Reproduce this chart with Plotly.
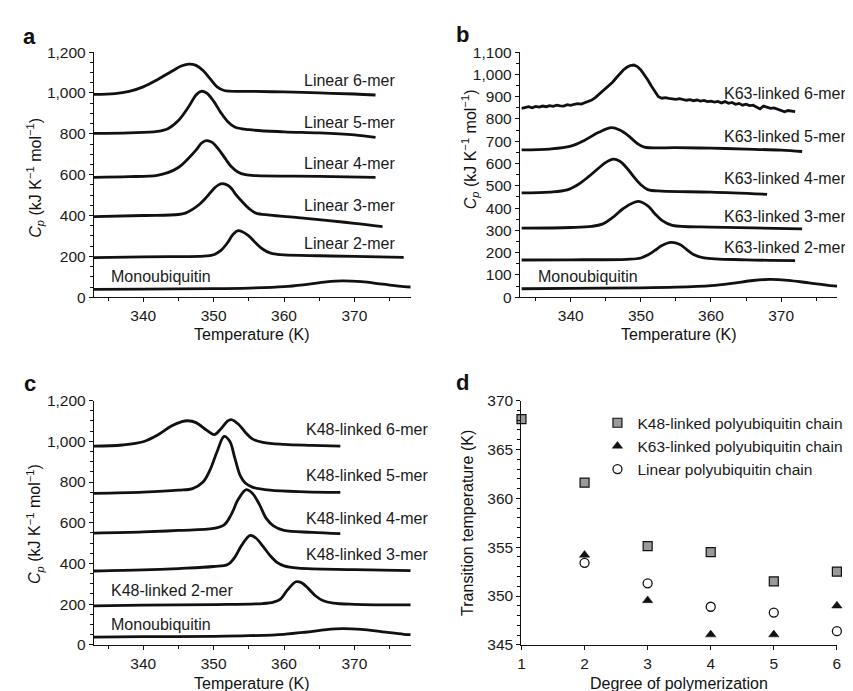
import plotly.graph_objects as go

W, H = 853, 691
FONT = "Liberation Sans, Arial, Helvetica, sans-serif"

# ---------------- data: panel a (linear chains) ----------------
MONO_T = [333, 340, 350, 355, 360, 363, 366, 368.3, 371, 374, 377, 378]
MONO_CP = [38, 40, 42, 45, 52, 62, 75, 80, 76, 64, 52, 50]

LIN2_T = [333, 340, 348, 349, 350, 351, 352, 352.7, 353.4, 354, 355, 356, 357, 358, 359, 360, 365, 370, 377]
LIN2_CP = [194, 198, 200, 202, 208, 228, 268, 305, 325, 322, 300, 265, 235, 217, 210, 207, 203, 200, 195]

LIN3_T = [333, 340, 345, 346, 347, 348, 349, 350, 350.7, 351.3, 352, 352.6, 353, 354, 355, 356, 358, 362, 366, 370, 374]
LIN3_CP = [395, 400, 405, 412, 430, 455, 490, 530, 550, 556, 548, 530, 510, 470, 435, 412, 402, 390, 376, 362, 346]

LIN4_T = [333, 338, 342, 343.5, 345, 346.2, 347.5, 348.3, 349, 349.8, 350.8, 351.8, 352.5, 353.5, 354.5, 356, 365, 373]
LIN4_CP = [587, 590, 597, 610, 635, 672, 720, 755, 767, 758, 720, 672, 640, 612, 600, 595, 592, 587]

LIN5_T = [333, 338, 342, 343.5, 345, 346.5, 347.5, 348.2, 349, 350, 351, 352, 353, 355, 360, 365, 370, 373]
LIN5_CP = [802, 805, 812, 825, 865, 935, 990, 1008, 1000, 960, 905, 860, 833, 820, 810, 805, 795, 783]

LIN6_T = [333, 336, 338, 340, 342, 344, 345.5, 346.5, 347.5, 348.5, 349.5, 350.5, 351.5, 355, 360, 365, 370, 373]
LIN6_CP = [993, 997, 1008, 1030, 1065, 1105, 1133, 1141, 1135, 1110, 1070, 1030, 1012, 1008, 1005, 1000, 995, 990]

# ---------------- data: panel b (K63-linked chains) ----------------
K63_2_T = [333, 340, 348, 350, 351, 352, 353, 354.3, 355.5, 356.5, 357.5, 359, 365, 372]
K63_2_CP = [167, 168, 170, 176, 190, 210, 232, 246, 238, 215, 192, 177, 168, 164]

K63_3_T = [333, 340, 343, 344.5, 346, 347.5, 349.6, 351, 352, 353, 354.5, 360, 366, 373]
K63_3_CP = [310, 313, 318, 328, 358, 398, 430, 410, 375, 345, 322, 315, 311, 307]

K63_4_T = [333, 337, 339.5, 341, 342.5, 344, 345, 346.1, 347, 348, 349, 350, 351, 353, 360, 368]
K63_4_CP = [468, 472, 482, 505, 540, 580, 605, 620, 610, 580, 540, 505, 483, 476, 472, 462]

K63_5_T = [333, 337, 340, 342, 344, 345.8, 347, 348.4, 349.5, 350.5, 355, 360, 365, 370, 373]
K63_5_CP = [661, 665, 678, 705, 740, 761, 750, 720, 690, 674, 671, 669, 665, 660, 654]

K63_6_T = [333, 333.5, 334, 334.5, 335, 335.5, 336, 336.5, 337, 337.5, 338, 338.5, 339, 339.5,
           340, 340.5, 341, 341.5, 342, 342.5, 343, 343.5, 344, 344.5, 345, 345.5, 346, 346.5,
           347, 347.5, 348, 348.5, 349, 349.5, 350, 350.5, 351, 351.5, 352, 352.5, 353, 353.5,
           354, 354.5, 355, 355.5, 356, 356.5, 357, 357.5, 358, 358.5, 359, 359.5, 360, 360.5,
           361, 361.5, 362, 362.5, 363, 363.5, 364, 364.5, 365, 365.5, 366, 366.5, 367, 367.5,
           368, 368.5, 369, 369.5, 370, 370.5, 371, 371.5, 372]
K63_6_CP = [848, 852, 855, 850, 856, 853, 858, 855, 860, 857, 862, 859, 858, 864,
            861, 866, 869, 867, 872, 878, 885, 896, 910, 925, 940, 955, 966, 985,
            1005, 1020, 1032, 1040, 1042, 1035, 1020, 1000, 975, 948, 922, 900, 893, 896,
            892, 890, 888, 891, 886, 884, 887, 882, 885, 880, 883, 878, 880, 876,
            879, 872, 878, 870, 874, 866, 870, 862, 866, 860, 862, 852, 845, 858,
            852, 848, 850, 843, 838, 832, 838, 834, 833]

# ---------------- data: panel c (K48-linked chains) ----------------
K48_2_T = [333, 340, 350, 357, 358.5, 359.5, 360.5, 361.7, 362.5, 363.5, 364.5, 365.5, 367, 370, 378]
K48_2_CP = [192, 195, 198, 203, 210, 225, 270, 310, 305, 275, 240, 218, 205, 199, 196]

K48_3_T = [333, 340, 345, 350, 352, 353, 354, 355.2, 356, 357, 358, 359, 360, 362, 370, 378]
K48_3_CP = [363, 368, 375, 385, 395, 430, 490, 538, 525, 485, 440, 405, 388, 377, 370, 365]

K48_4_T = [333, 340, 345, 350, 351.5, 352.5, 353.5, 354.6, 355.5, 356.5, 357.5, 358.5, 360, 364, 368]
K48_4_CP = [549, 555, 562, 572, 590, 640, 715, 762, 745, 690, 620, 585, 562, 553, 547]

K48_5_T = [333, 340, 345, 347, 348.5, 349.5, 350.5, 351.5, 352.3, 353, 353.8, 354.5, 355.5, 358, 363, 368]
K48_5_CP = [744, 750, 760, 768, 800, 860, 950, 1024, 1000, 920, 830, 795, 775, 760, 752, 749]

K48_6_T = [333, 337, 340, 342, 344, 345.5, 346.3, 347.5, 349, 350.1, 351, 352, 352.5, 353.5, 354.5, 355.5, 357, 360, 364, 368]
K48_6_CP = [976, 982, 998, 1030, 1075, 1097, 1101, 1092, 1055, 1033, 1060, 1100, 1107, 1085, 1045, 1012, 995, 985, 980, 976]

# ---------------- data: panel d (transition temperatures) ----------------
DP_K48 = [1, 2, 3, 4, 5, 6]
TM_K48 = [368.1, 361.6, 355.1, 354.5, 351.5, 352.5]
DP_K63 = [2, 3, 4, 5, 6]
TM_K63 = [354.2, 349.55, 346.05, 346.05, 349.0]
DP_LIN = [2, 3, 4, 5, 6]
TM_LIN = [353.4, 351.3, 348.9, 348.3, 346.4]

Y_TITLE = "<i>C</i><sub><i>p</i></sub> (kJ K<sup>−1</sup> mol<sup>−1</sup>)"

fig = go.Figure()

def px_x(p):
    return p / W

def px_y(p):
    return 1 - p / H

LINE = dict(color="#111111", width=2.8)

def curve(T, C, ax, shape="spline"):
    fig.add_trace(go.Scatter(x=T, y=C, mode="lines", line=dict(LINE, shape=shape),
                             xaxis="x" + ax, yaxis="y" + ax, showlegend=False,
                             hoverinfo="skip"))

# panel a
for T, C in [(MONO_T, MONO_CP), (LIN2_T, LIN2_CP), (LIN3_T, LIN3_CP),
             (LIN4_T, LIN4_CP), (LIN5_T, LIN5_CP), (LIN6_T, LIN6_CP)]:
    curve(T, C, "")
# panel b
for T, C in [(MONO_T, MONO_CP), (K63_2_T, K63_2_CP), (K63_3_T, K63_3_CP),
             (K63_4_T, K63_4_CP), (K63_5_T, K63_5_CP)]:
    curve(T, C, "2")
curve(K63_6_T, K63_6_CP, "2", shape="linear")
# panel c
for T, C in [(MONO_T, MONO_CP), (K48_2_T, K48_2_CP), (K48_3_T, K48_3_CP),
             (K48_4_T, K48_4_CP), (K48_5_T, K48_5_CP), (K48_6_T, K48_6_CP)]:
    curve(T, C, "3")

# panel d
fig.add_trace(go.Scatter(x=DP_K48, y=TM_K48, mode="markers", name="K48-linked polyubiquitin chain",
                         marker=dict(symbol="square", size=9, color="#9a9a9a",
                                     line=dict(color="#111111", width=1.2)),
                         xaxis="x4", yaxis="y4", cliponaxis=False))
fig.add_trace(go.Scatter(x=DP_K63, y=TM_K63, mode="markers", name="K63-linked polyubiquitin chain",
                         marker=dict(symbol="triangle-up", size=9, color="#111111",
                                     line=dict(color="#111111", width=0.5)),
                         xaxis="x4", yaxis="y4", cliponaxis=False))
fig.add_trace(go.Scatter(x=DP_LIN, y=TM_LIN, mode="markers", name="Linear polyubiquitin chain",
                         marker=dict(symbol="circle", size=9, color="white",
                                     line=dict(color="#111111", width=1.3)),
                         xaxis="x4", yaxis="y4", cliponaxis=False))

TICKFONT = dict(family=FONT, size=15.5, color="#1a1a1a")

def xax(domain, rng, dtick, minor, anchor, tick0=0):
    return dict(domain=domain, range=rng, dtick=dtick, tick0=tick0, anchor=anchor,
                showline=True, linecolor="#111111",
                linewidth=1.3, ticks="outside", ticklen=4, tickcolor="#111111", tickwidth=1.2,
                showgrid=False, zeroline=False, tickfont=TICKFONT, fixedrange=True,
                minor=dict(dtick=minor, ticks="outside", ticklen=3, tickcolor="#111111", tickwidth=1, showgrid=False))

def yax(domain, rng, dtick, minor, anchor, fmt=","):
    return dict(domain=domain, range=rng, dtick=dtick, tick0=0, anchor=anchor,
                showline=True, linecolor="#111111",
                linewidth=1.3, ticks="outside", ticklen=4, tickcolor="#111111", tickwidth=1.2,
                showgrid=False, zeroline=False, tickfont=TICKFONT, tickformat=fmt, fixedrange=True,
                minor=dict(dtick=minor, ticks="outside", ticklen=3, tickcolor="#111111", tickwidth=1, showgrid=False))

XA = [px_x(82.7), px_x(402.5)]
XB = [px_x(512.7), px_x(833)]
XD = [px_x(514.3), px_x(832.7)]
YTOP = [px_y(287.3), px_y(36)]
YBOT = [px_y(643.7), px_y(393.3)]

fig.update_layout(
    width=W, height=H, margin=dict(l=0, r=0, t=0, b=0),
    paper_bgcolor="white", plot_bgcolor="white",
    font=dict(family=FONT, size=16, color="#1a1a1a"),
    xaxis=xax(XA, [333, 378], 10, 5, "y"), yaxis=yax(YTOP, [0, 1200], 200, 50, "x"),
    xaxis2=xax(XB, [332.75, 378], 10, 5, "y2"), yaxis2=yax(YTOP, [0, 1100], 100, 50, "x2"),
    xaxis3=xax(XA, [333, 378], 10, 5, "y3"), yaxis3=yax(YBOT, [0, 1200], 200, 50, "x3"),
    xaxis4=xax(XD, [1, 6], 1, 1, "y4", tick0=1), yaxis4=yax(YBOT, [345, 370], 5, 1, "x4", fmt="d"),
    showlegend=True,
    legend=dict(x=px_x(591), y=px_y(399), xanchor="left", yanchor="top", bgcolor="rgba(0,0,0,0)",
                font=dict(family=FONT, size=15.5, color="#1a1a1a"), itemwidth=30, tracegroupgap=0),
)

ann = []

def label(text, x, y, ax, anchor="left"):
    ann.append(dict(text=text, x=x, y=y, xref="x" + ax, yref="y" + ax, xanchor=anchor, yanchor="middle",
                    showarrow=False, font=dict(family=FONT, size=16, color="#1a1a1a")))

# panel a labels
label("Linear 6-mer", 362.6, 1061, "")
label("Linear 5-mer", 362.6, 856, "")
label("Linear 4-mer", 362.6, 656, "")
label("Linear 3-mer", 362.6, 450, "")
label("Linear 2-mer", 362.6, 264, "")
label("Monoubiquitin", 335.1, 102, "")
# panel b labels
label("K63-linked 6-mer", 361.6, 914, "2")
label("K63-linked 5-mer", 361.6, 720, "2")
label("K63-linked 4-mer", 361.6, 531, "2")
label("K63-linked 3-mer", 361.6, 363, "2")
label("K63-linked 2-mer", 361.6, 222, "2")
label("Monoubiquitin", 335.1, 92, "2")
# panel c labels
label("K48-linked 6-mer", 362.8, 1056, "3")
label("K48-linked 5-mer", 362.8, 832, "3")
label("K48-linked 4-mer", 362.8, 621, "3")
label("K48-linked 3-mer", 362.8, 445, "3")
label("K48-linked 2-mer", 335.2, 267, "3")
label("Monoubiquitin", 335.2, 99, "3")

def paper_text(text, xp, yp, size=16, angle=0, bold=False):
    ann.append(dict(text=("<b>%s</b>" % text) if bold else text, x=px_x(xp), y=px_y(yp),
                    xref="paper", yref="paper", xanchor="center", yanchor="middle",
                    showarrow=False, textangle=angle,
                    font=dict(family=FONT, size=size, color="#111111")))

# axis titles
paper_text(Y_TITLE, 23, 165, angle=-90)
paper_text(Y_TITLE, 462, 136, angle=-90)
paper_text(Y_TITLE, 23, 520, angle=-90)
paper_text("Transition temperature (K)", 460, 519, angle=-90)
paper_text("Temperature (K)", 242, 326)
paper_text("Temperature (K)", 673, 326)
paper_text("Temperature (K)", 242, 683)
paper_text("Degree of polymerization", 673, 683)

# panel letters
paper_text("a", 18, 20, size=22, bold=True)
paper_text("b", 455, 18, size=22, bold=True)
paper_text("c", 18, 376, size=22, bold=True)
paper_text("d", 455, 375, size=22, bold=True)

# asterisk on K48 6-mer point
ann.append(dict(text="*", x=6.16, y=353.6, xref="x4", yref="y4", showarrow=False,
                xanchor="center", yanchor="middle", font=dict(family=FONT, size=13, color="#555555")))

fig.update_layout(annotations=ann)
fig.write_html("out.html")
